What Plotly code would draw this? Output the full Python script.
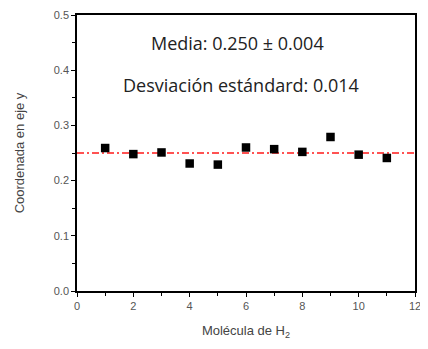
import plotly.graph_objects as go

molecules = [1, 2, 3, 4, 5, 6, 7, 8, 9, 10, 11]
y_coord = [0.259, 0.248, 0.251, 0.231, 0.229, 0.260, 0.257, 0.252, 0.279, 0.247, 0.241]
mean_value = 0.250
x_ticks = [0, 2, 4, 6, 8, 10, 12]
y_ticks = [0.0, 0.1, 0.2, 0.3, 0.4, 0.5]

fig = go.Figure()
fig.add_trace(go.Scatter(
    x=[x_ticks[0], x_ticks[-1]], y=[mean_value, mean_value], mode="lines",
    line=dict(color="#ff1a1a", width=1.5, dash="7px,3px,2px,3px"),
    showlegend=False,
))
fig.add_trace(go.Scatter(
    x=molecules, y=y_coord, mode="markers",
    marker=dict(symbol="square", size=8.5, color="black"),
    showlegend=False,
))

fig.add_annotation(x=0.476, y=0.449, xref="paper", yref="y",
                   text="Media: 0.250 ± 0.004", showarrow=False,
                   font=dict(family="Open Sans", size=18, color="#222"))
fig.add_annotation(x=0.485, y=0.373, xref="paper", yref="y",
                   text="Desviación estándard: 0.014", showarrow=False,
                   font=dict(family="Open Sans", size=18, color="#222"))

axis_common = dict(
    showline=True, linecolor="black", linewidth=1.5, mirror=True,
    ticks="outside", ticklen=4, tickwidth=1.2, tickcolor="black",
    showgrid=False, zeroline=False, automargin=False,
    tickfont=dict(family="Liberation Sans", size=11, color="#555"),
)

fig.update_xaxes(range=[0, 12], tickvals=x_ticks,
                 minor=dict(dtick=1, ticks="outside", ticklen=3, tickcolor="black"),
                 title=dict(text="Molécula de H<sub>2</sub>",
                            font=dict(family="Liberation Sans", size=13, color="#444"),
                            standoff=15),
                 **axis_common)
fig.update_yaxes(range=[0, 0.5], tickvals=y_ticks, tickformat=".1f",
                 minor=dict(dtick=0.05, ticks="outside", ticklen=3, tickcolor="black"),
                 title=dict(text="Coordenada en eje y",
                            font=dict(family="Liberation Sans", size=13, color="#444"),
                            standoff=26),
                 **axis_common)

fig.update_layout(
    width=420, height=341,
    margin=dict(l=69, r=13, t=7, b=58),
    plot_bgcolor="white", paper_bgcolor="white",
)
fig.write_html("out.html")
